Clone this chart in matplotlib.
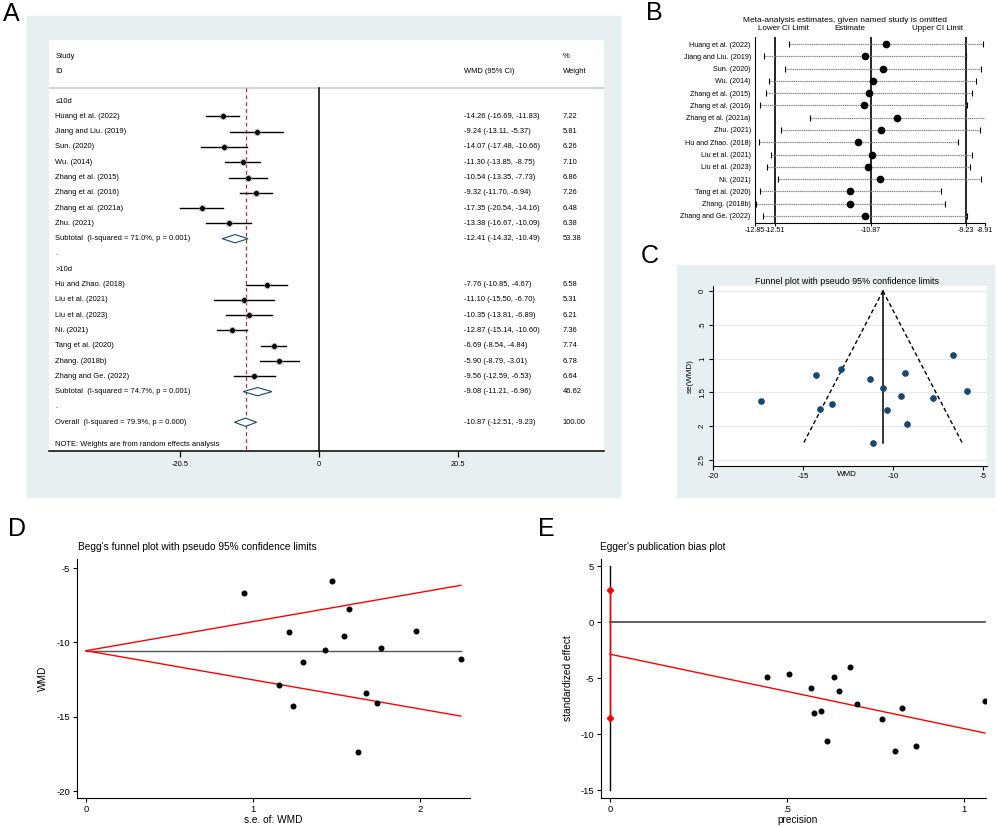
import numpy as np
import matplotlib.pyplot as plt
from matplotlib.patches import Rectangle, Polygon
from matplotlib.transforms import blended_transform_factory

plt.rcParams['font.family'] = ['Liberation Sans', 'DejaVu Sans']
plt.rcParams['axes.unicode_minus'] = False

W, H = 996, 827

# ---- data ----
studies = ["Huang et al. (2022)", "Jiang and Liu. (2019)", "Sun. (2020)", "Wu. (2014)",
           "Zhang et al. (2015)", "Zhang et al. (2016)", "Zhang et al. (2021a)", "Zhu. (2021)",
           "Hu and Zhao. (2018)", "Liu et al. (2021)", "Liu et al. (2023)", "Ni. (2021)",
           "Tang et al. (2020)", "Zhang. (2018b)", "Zhang and Ge. (2022)"]
wmd = [-14.26, -9.24, -14.07, -11.30, -10.54, -9.32, -17.35, -13.38,
       -7.76, -11.10, -10.35, -12.87, -6.69, -5.90, -9.56]
ci_lo = [-16.69, -13.11, -17.48, -13.85, -13.35, -11.70, -20.54, -16.67,
         -10.85, -15.50, -13.81, -15.14, -8.54, -8.79, -12.59]
ci_hi = [-11.83, -5.37, -10.66, -8.75, -7.73, -6.94, -14.16, -10.09,
         -4.67, -6.70, -6.89, -10.60, -4.84, -3.01, -6.53]
weight = [7.22, 5.81, 6.26, 7.10, 6.86, 7.26, 6.48, 6.38,
          6.58, 5.31, 6.21, 7.36, 7.74, 6.78, 6.64]
se = [1.240, 1.974, 1.740, 1.301, 1.434, 1.214, 1.628, 1.679,
      1.577, 2.245, 1.765, 1.158, 0.944, 1.474, 1.546]

groups = ["\u226410d", ">10d"]
sub_labels = ["Subtotal  (I-squared = 71.0%, p = 0.001)",
              "Subtotal  (I-squared = 74.7%, p = 0.001)"]
sub_est = [-12.41, -9.08]
sub_lo = [-14.32, -11.21]
sub_hi = [-10.49, -6.96]
sub_w = [53.38, 46.62]
overall_label = "Overall  (I-squared = 79.9%, p = 0.000)"
overall = (-10.87, -12.51, -9.23, 100.00)

# leave-one-out estimates (panel B)
omit_est = [-10.60, -10.97, -10.65, -10.83, -10.90, -10.99, -10.41, -10.70,
            -11.09, -10.85, -10.91, -10.71, -11.22, -11.23, -10.96]
omit_lo = [-12.26, -12.69, -12.34, -12.61, -12.66, -12.76, -11.91, -12.41,
           -12.79, -12.57, -12.65, -12.45, -12.77, -12.83, -12.71]
omit_hi = [-8.94, -9.24, -8.97, -9.06, -9.13, -9.21, -8.90, -8.99,
           -9.37, -9.14, -9.17, -8.98, -9.66, -9.60, -9.21]
b_ticks = [-12.85, -12.51, -10.87, -9.23, -8.91]

# funnel / Begg (panels C, D)
fixed_est = -10.56
funnel_se_max = 2.245
funnel_lo_end = -14.96
funnel_hi_end = -6.16

# Egger (panel E)
precision = [0.806, 0.507, 0.575, 0.769, 0.697, 0.824, 0.614, 0.596,
             0.634, 0.445, 0.567, 0.864, 1.059, 0.678, 0.646]
std_effect = [-11.50, -4.68, -8.09, -8.69, -7.35, -7.68, -10.66, -7.97,
              -4.92, -4.94, -5.86, -11.11, -7.09, -4.00, -6.18]
egger_x = [0, 1.059]
egger_y = [-2.87, -9.91]
egger_ci = [-8.58, 2.88]

GRAY_BG = '#e8eff1'
NAVY = '#1a476f'


def box(x0, y0, x1, y1):
    return [x0 / W, 1 - y1 / H, (x1 - x0) / W, (y1 - y0) / H]


def ftext(x, y, s, **kw):
    fig.text(x / W, 1 - y / H, s, **kw)


def bg(x0, y0, x1, y1):
    fig.add_artist(Rectangle((x0 / W, 1 - y1 / H), (x1 - x0) / W, (y1 - y0) / H,
                             transform=fig.transFigure, color=GRAY_BG, zorder=-1))


fig = plt.figure(figsize=(W / 100, H / 100), dpi=100)

# ================= A: forest plot =================
bg(27, 16, 620, 497)
ax = fig.add_axes(box(49, 40, 604, 451))
ax.set_facecolor('white')
ax.set_xlim(-39.94, 42.16)
ax.set_ylim(22.88, -3.99)
for s in ['top', 'left', 'right']:
    ax.spines[s].set_visible(False)
ax.spines['bottom'].set_linewidth(1.1)
ax.set_yticks([])
ax.set_xticks([-20.5, 0, 20.5])
ax.set_xticklabels(['-20.5', '0', '20.5'])
ax.tick_params(axis='x', length=4, width=0.9, labelsize=5.4, pad=3)
tr = blended_transform_factory(ax.transAxes, ax.transData)
fs = 5.4
xs, xw, xp = 0.0117, 0.748, 0.926

ax.text(xs, -2.94, "Study", transform=tr, va='center', fontsize=fs)
ax.text(xs, -1.96, "ID", transform=tr, va='center', fontsize=fs)
ax.text(xw, -1.96, "WMD (95% CI)", transform=tr, va='center', fontsize=fs)
ax.text(xp, -2.94, "%", transform=tr, va='center', fontsize=fs)
ax.text(xp, -1.96, "Weight", transform=tr, va='center', fontsize=fs)
ax.axhline(-0.85, color='#c8d2d5', lw=1.3)

ax.plot([0, 0], [-0.85, 22.88], color='k', lw=1.1)
ax.plot([overall[0]] * 2, [-0.85, 22.88], color='#b03030', lw=0.9, ls=(0, (3, 2.5)))


def diamond(est, lo, hi, row):
    ax.add_patch(Polygon([(lo, row), (est, row - 0.27), (hi, row), (est, row + 0.27)],
                         closed=True, facecolor='white', edgecolor=NAVY, lw=0.8, zorder=3))


row = 0
idx = 0
for g in range(2):
    ax.text(xs, row, groups[g], transform=tr, va='center', fontsize=fs)
    row += 1
    n = 8 if g == 0 else 7
    for _ in range(n):
        i = idx
        ax.plot([ci_lo[i], ci_hi[i]], [row, row], color='k', lw=1.0)
        ax.plot(wmd[i], row, 's', ms=1.6 * np.sqrt(weight[i]), color='#bdbdbd', mec='none')
        ax.plot(wmd[i], row, 'D', ms=2.4, color='k')
        ax.text(xs, row, studies[i], transform=tr, va='center', fontsize=fs)
        ax.text(xw, row, f"{wmd[i]:.2f} ({ci_lo[i]:.2f}, {ci_hi[i]:.2f})",
                transform=tr, va='center', fontsize=fs)
        ax.text(xp, row, f"{weight[i]:.2f}", transform=tr, va='center', fontsize=fs)
        row += 1
        idx += 1
    diamond(sub_est[g], sub_lo[g], sub_hi[g], row)
    ax.text(xs, row, sub_labels[g], transform=tr, va='center', fontsize=fs)
    ax.text(xw, row, f"{sub_est[g]:.2f} ({sub_lo[g]:.2f}, {sub_hi[g]:.2f})",
            transform=tr, va='center', fontsize=fs)
    ax.text(xp, row, f"{sub_w[g]:.2f}", transform=tr, va='center', fontsize=fs)
    row += 1
    ax.text(xs, row, ".", transform=tr, va='center', fontsize=fs)
    row += 1

# overall row
diamond(overall[0], overall[1], overall[2], row)
ax.text(xs, row, overall_label, transform=tr, va='center', fontsize=fs)
ax.text(xw, row, f"{overall[0]:.2f} ({overall[1]:.2f}, {overall[2]:.2f})",
        transform=tr, va='center', fontsize=fs)
ax.text(xp, row, f"{overall[3]:.2f}", transform=tr, va='center', fontsize=fs)
ax.text(xs, row + 1.45, "NOTE: Weights are from random effects analysis",
        transform=tr, va='center', fontsize=fs)

# ================= B: leave-one-out =================
bx = fig.add_axes(box(755, 37, 985, 223))
nb = len(studies)
rows_b = np.arange(nb)
bx.set_xlim(-12.85, -8.91)
bx.set_ylim(nb - 0.43, -0.57)
for s in ['top', 'right']:
    bx.spines[s].set_visible(False)
for xv in b_ticks[1:4]:
    bx.axvline(xv, color='k', lw=1.2)
for i in range(nb):
    bx.plot([omit_lo[i], omit_hi[i]], [i, i], color='#888888', lw=0.9, ls=(0, (1, 0.5)))
    bx.plot([omit_lo[i], omit_hi[i]], [i, i], '|', color='k', ms=4, mew=0.8)
    bx.plot(omit_est[i], i, 'o', color='k', ms=4.5)
bx.set_yticks(rows_b)
bx.set_yticklabels(studies)
bx.set_xticks(b_ticks)
bx.set_xticklabels([f"{v:.2f}" for v in b_ticks])
bx.tick_params(axis='y', length=0, labelsize=5.1, pad=3)
bx.tick_params(axis='x', length=2, labelsize=5.1, pad=1)
ftext(845, 20, "Meta-analysis estimates, given named study is omitted", ha='center', va='center', fontsize=6.0)
ftext(783, 29, "Lower CI Limit", ha='center', va='center', fontsize=5.8)
ftext(850, 29, "Estimate", ha='center', va='center', fontsize=5.8)
ftext(937, 29, "Upper CI Limit", ha='center', va='center', fontsize=5.8)

# ================= C: funnel plot =================
bg(677, 265, 994, 497)
cx = fig.add_axes(box(713, 286, 987, 466))
cx.set_facecolor('white')
cx.set_xlim(-20.0, -4.78)
cx.set_ylim(2.589, -0.074)
for s in ['top', 'right']:
    cx.spines[s].set_visible(False)
cyt = [0, 0.5, 1, 1.5, 2, 2.5]
cx.set_yticks(cyt)
cx.set_yticklabels(['0', '.5', '1', '1.5', '2', '2.5'], rotation=90, va='center')
cx.set_xticks([-20, -15, -10, -5])
cx.set_xticklabels(['-20', '-15', '-10', '-5'])
for yv in cyt:
    cx.axhline(yv, color='#e3eaec', lw=0.8, zorder=0)
cx.tick_params(length=3, labelsize=5.7, pad=2)
cx.plot([fixed_est, fixed_est], [0, funnel_se_max], color='k', lw=1.1)
cx.plot([fixed_est, funnel_lo_end], [0, funnel_se_max], color='k', lw=1.0, ls=(0, (3, 2)))
cx.plot([fixed_est, funnel_hi_end], [0, funnel_se_max], color='k', lw=1.0, ls=(0, (3, 2)))
cx.plot(wmd, se, 'o', color=NAVY, ms=3.8, ls='none')
ftext(847, 281, "Funnel plot with pseudo 95% confidence limits", ha='center', va='center', fontsize=6.4)
ftext(847, 474, "WMD", ha='center', va='center', fontsize=5.8)
ftext(690, 376, "se(WMD)", ha='center', va='center', rotation=90, fontsize=5.8)

# ================= D: Begg's funnel =================
dx = fig.add_axes(box(77, 559, 470, 798))
dx.set_xlim(-0.054, 2.30)
dx.set_ylim(-20.47, -4.39)
for s in ['top', 'right']:
    dx.spines[s].set_visible(False)
dx.set_xticks([0, 1, 2])
dx.set_yticks([-5, -10, -15, -20])
dx.tick_params(length=3, labelsize=6.8, pad=2)
dx.plot([0, funnel_se_max], [fixed_est, fixed_est], color='#555555', lw=1.0)
dx.plot([0, funnel_se_max], [fixed_est, funnel_hi_end], color='red', lw=1.0)
dx.plot([0, funnel_se_max], [fixed_est, funnel_lo_end], color='red', lw=1.0)
dx.plot(se, wmd, 'o', color='k', ms=3.3, ls='none')
ftext(78, 547, "Begg's funnel plot with pseudo 95% confidence limits", ha='left', va='center', fontsize=7.3)
ftext(273, 820, "s.e. of: WMD", ha='center', va='center', fontsize=7.3)
ftext(43, 678, "WMD", ha='center', va='center', rotation=90, fontsize=7.3)

# ================= E: Egger's plot =================
ex = fig.add_axes(box(601, 559, 986, 798))
ex.set_xlim(-0.025, 1.062)
ex.set_ylim(-15.71, 5.625)
for s in ['top', 'right']:
    ex.spines[s].set_visible(False)
ex.set_xticks([0, 0.5, 1])
ex.set_xticklabels(['0', '.5', '1'])
ex.set_yticks([5, 0, -5, -10, -15])
ex.tick_params(length=3, labelsize=6.8, pad=2)
ex.plot([0, 0], [5, -15], color='k', lw=1.0)
ex.plot([0, egger_x[1]], [0, 0], color='#333333', lw=1.1)
ex.plot(egger_x, egger_y, color='red', lw=1.0)
ex.plot([0, 0], egger_ci, color='red', lw=1.0, marker='D', ms=3.2)
ex.plot(precision, std_effect, 'o', color='k', ms=3.3, ls='none')
ftext(600, 547, "Egger's publication bias plot", ha='left', va='center', fontsize=7.3)
ftext(798, 820, "precision", ha='center', va='center', fontsize=7.3)
ftext(568, 678, "standardized effect", ha='center', va='center', rotation=90, fontsize=7.3)

# panel letters
for lab, x, y in [("A", 11, 14), ("B", 654, 13), ("C", 650, 256), ("D", 17, 529), ("E", 546, 529)]:
    ftext(x, y, lab, ha='center', va='center', fontsize=18)

fig.savefig("out.png", dpi=100)
